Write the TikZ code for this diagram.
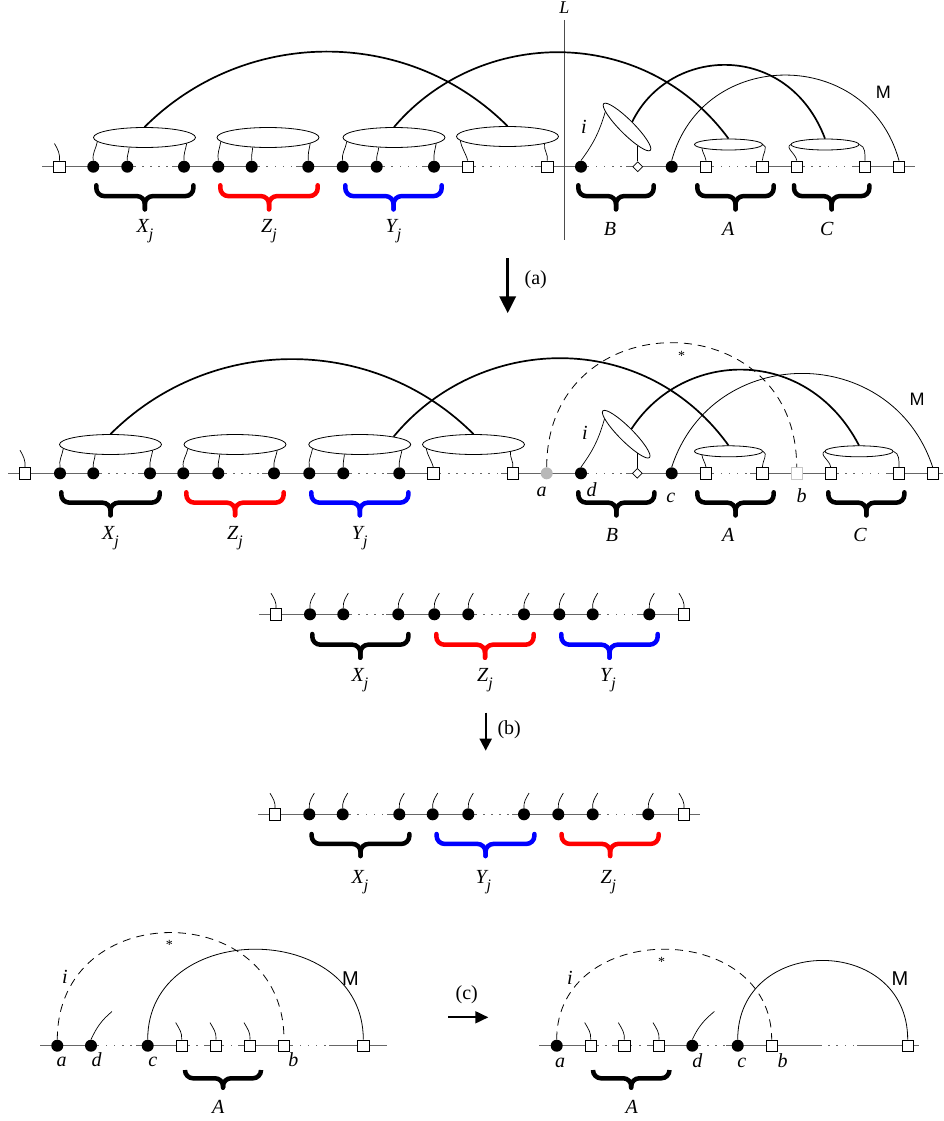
\documentclass[tikz,border=0pt]{standalone}
\usepackage{fontspec}
\setmainfont{Liberation Serif}
\newfontfamily\msans{Liberation Sans}
\usetikzlibrary{shapes.geometric,arrows.meta,positioning}
\tikzset{base/.style={draw=black!60, line width=1.1pt},
         gap/.style={draw=white, line width=3pt, dash pattern=on 6.5pt off 1.6pt,
                     shorten <=2pt, shorten >=6pt},
         dot/.style={circle, fill=black, inner sep=0pt, minimum size=12pt},
         box/.style={rectangle, draw, fill=white, line width=0.7pt,
                     inner sep=0pt, minimum size=11.5pt},
         dia/.style={diamond, draw, fill=white, line width=0.7pt,
                     inner sep=0pt, minimum size=10pt},
         ell/.style={ellipse, draw, fill=white, line width=0.8pt, inner sep=0pt,
                     minimum width=102pt, minimum height=20pt},
         sell/.style={ell, minimum width=68pt, minimum height=11pt},
         bell/.style={ell, minimum width=66pt, minimum height=14pt, rotate=-45},
         tie/.style={line width=0.7pt},
         bigarc/.style={line width=1.7pt},
         thinarc/.style={line width=0.8pt},
         dasharc/.style={line width=0.8pt, dash pattern=on 8pt off 6pt},
         bracestroke/.style={line width=4.5pt, line cap=round, rounded corners=8pt},
         lbl/.style={font=\fontsize{20}{24}\selectfont\itshape, inner sep=0pt, anchor=base},
         mlbl/.style={font=\msans\fontsize{18}{20}\selectfont, inner sep=0pt, anchor=base},
         steplbl/.style={font=\fontsize{20}{24}\selectfont, inner sep=0pt},
         astx/.style={font=\fontsize{14}{14}\selectfont, inner sep=0pt, anchor=north}}
% curly brace: colour, x from, x to, top y, depth
\newcommand\curly[5]{%
  \draw[bracestroke,#1] (#2,-#4) -- (#2,{-#4-0.45*#5}) -- ({(#2+#3)/2},{-#4-0.45*#5}) -- ({(#2+#3)/2},{-#4-#5});
  \draw[bracestroke,#1] (#3,-#4) -- (#3,{-#4-0.45*#5}) -- ({(#2+#3)/2},{-#4-0.45*#5}) -- ({(#2+#3)/2},{-#4-#5});}
\newcommand\subj[1]{#1\raisebox{-7pt}{\fontsize{16}{16}\selectfont j}}

\begin{document}
\begin{tikzpicture}[x=1pt,y=1pt]
  \useasboundingbox (0,0) rectangle (944,-1121);

  % ---- top row
  \coordinate (pL) at (42,-166.7);
  \coordinate (pR) at (915,-166.7);
  \draw[base] (pL) -- (pR);
  \foreach \n/\x in {x1/93.3,x2/127.3,x3/184,z1/218.3,z2/251.7,z3/308.3,
                     y1/342.7,y2/376.7,y3/434,d/581,c/671.7}
    \node[dot] (p\n) at (\x,-166.7) {};
  \foreach \n/\x in {s0/59.5,q1/467.7,q2/547.3,a1/706,a2/762.3,c1/796.7,c2/865,m/899}
    \node[box] (p\n) at (\x,-166.7) {};
  \node[dia] (pdia) at (637.7,-166.7) {};
  \foreach \u/\v in {x2/x3,z2/z3,y2/y3,q1/q2,d/dia,a1/a2,c1/c2}
    \draw[gap] (p\u) -- (p\v);

  \node[ell] (pex) at (144.5,-137.5) {};
  \node[ell] (pez) at (268,-137.5) {};
  \node[ell] (pey) at (394,-137.5) {};
  \node[ell] (peq) at (507.5,-136.5) {};
  \node[sell] (peA) at (728.5,-144.5) {};
  \node[sell] (peC) at (825,-144.5) {};
  \node[bell] (peB) at (627,-127) {};

  \coordinate (Ltop) at (564.3,-20);
  \coordinate (Lbot) at (564.3,-240);
  \draw[draw=black!70, line width=0.9pt] (Ltop) -- (Lbot);
  \node[lbl, font=\fontsize{18}{20}\selectfont\itshape, above=6pt of Ltop] (Lname) {L};

  % ---- second row
  \coordinate (qL) at (8.3,-473.3);
  \coordinate (qR) at (943,-473.3);
  \draw[base] (qL) -- (qR);
  \foreach \n/\x in {x1/60,x2/93.3,x3/150,z1/183.3,z2/218.3,z3/274,
                     y1/309.3,y2/343.3,y3/399.3,d/581,c/671.7}
    \node[dot] (q\n) at (\x,-473.3) {};
  \foreach \n/\x in {s0/25,q1/433.3,q2/512.7,a1/706,a2/762.3,c1/830.7,c2/899,m/932.7}
    \node[box] (q\n) at (\x,-473.3) {};
  \node[dot, fill=black!28] (qa) at (546.7,-473.3) {};
  \node[box, draw=black!22] (qb) at (796.7,-473.3) {};
  \node[dia] (qdia) at (637.3,-473.3) {};
  \foreach \u/\v in {x2/x3,z2/z3,y2/y3,q1/q2,d/dia,a1/a2,c1/c2}
    \draw[gap] (q\u) -- (q\v);

  \node[ell] (qex) at (110.5,-444.5) {};
  \node[ell] (qez) at (235,-444.5) {};
  \node[ell] (qey) at (359.7,-444.5) {};
  \node[ell] (qeq) at (473.5,-444.5) {};
  \node[sell] (qeA) at (728.5,-451.3) {};
  \node[sell] (qeC) at (859,-451.3) {};
  \node[bell] (qeB) at (626.2,-434.2) {};

  % ties from the line up to the ellipses
  \foreach \w in {p,q}{
    \foreach \g in {x,z,y}{
      \draw[tie] (\w\g1.north) to[out=100,in=-100] (\w e\g.185);
      \draw[tie] (\w\g2.north) to[out=95,in=-95] (\w e\g.213);
      \draw[tie] (\w\g3.north) to[out=95,in=-100] (\w e\g.352);}
    \draw[tie] (\w q1.north) to[out=105,in=-80] (\w eq.185);
    \draw[tie] (\w q2.north) to[out=80,in=-100] (\w eq.349);
    \draw[tie] (\w a1.north) to[out=100,in=-80] (\w eA.188);
    \draw[tie] (\w a2.north) to[out=90,in=-20] (\w eA.east);
    \draw[tie] (\w c1.north) to[out=95,in=-150] (\w eC.west);
    \draw[tie] (\w c2.north) to[out=90,in=-20] (\w eC.east);
    \draw[tie] (\w dia.north) -- ++(0,15);
    \draw[tie] (\w d.north) to[bend right=10] (\w eB.190);
    \draw[tie] (\w s0.north) to[out=85,in=-60] ++(-5,17);
  }

  % arcs
  \draw[bigarc] (pex.north) .. controls +(100,100) and +(-100,100) .. (peq.north);
  \draw[bigarc] (pey.north) .. controls +(85,100) and +(-85,115) .. (peA.north);
  \draw[bigarc] (peB.north) .. controls +(37,76) and +(-37,98) .. (peC.north);
  \draw[thinarc] (pc.north) .. controls +(31,114) and +(-31,114) .. (pm.north);
  \draw[bigarc] (qex.north) .. controls +(100,100) and +(-100,100) .. (qeq.north);
  \draw[bigarc] (qey.13) .. controls +(85,103) and +(-85,118) .. (qeA.north);
  \draw[bigarc] (qeB.north) .. controls +(52,80) and +(-52,100) .. (qeC.north);
  \draw[thinarc] (qc.north) .. controls +(41,125) and +(-41,125) .. (qm.north);
  \draw[dasharc] (qa.north) .. controls +(0,166) and +(0,166) .. (qb.north);

  % braces
  \curly{black}{96.3}{193.4}{185.3}{24}
  \curly{red}{220.3}{317.7}{185.3}{24}
  \curly{blue}{345.3}{441.7}{185.3}{24}
  \curly{black}{578.3}{653.7}{185.3}{24}
  \curly{black}{697.3}{773.7}{185.3}{24}
  \curly{black}{794}{869.4}{185.3}{24}
  \curly{black}{61.3}{159.7}{492.3}{23}
  \curly{red}{186.3}{283.7}{492.3}{23}
  \curly{blue}{311.3}{408.4}{492.3}{23}
  \curly{black}{578.3}{654.4}{492.3}{23}
  \curly{black}{697.3}{773.7}{492.3}{23}
  \curly{black}{828.3}{904.4}{492.3}{23}

  % labels
  \node[lbl] (plx) at (145,-232.7) {\subj{X}};
  \node[lbl] (plz) at (269,-232.7) {\subj{Z}};
  \node[lbl] (ply) at (393.5,-232.7) {\subj{Y}};
  \node[lbl] (plB) at (610,-235) {B};
  \node[lbl] (plA) at (728.3,-235) {A};
  \node[lbl] (plC) at (826.7,-235) {C};
  \node[lbl] (pli) at (584,-133.3) {i};
  \node[mlbl] (plM) at (883.3,-99) {M};
  \node[lbl] (qlx) at (110.5,-539) {\subj{X}};
  \node[lbl] (qlz) at (235,-539) {\subj{Z}};
  \node[lbl] (qly) at (359.7,-539) {\subj{Y}};
  \node[lbl] (qlB) at (612,-541) {B};
  \node[lbl] (qlA) at (728.3,-541) {A};
  \node[lbl] (qlC) at (860,-541) {C};
  \node[lbl] (qla) at (541.7,-496) {a};
  \node[lbl] (qld) at (591.7,-496) {d};
  \node[lbl] (qlc) at (670.7,-502.5) {c};
  \node[lbl] (qlb) at (801.7,-502.5) {b};
  \node[lbl] (qli) at (585,-439) {i};
  \node[mlbl] (qlM) at (917,-405.7) {M};
  \node[astx] (qst) at (681.7,-350.7) {*};

  % step (a)
  \coordinate (ta) at (507.7,-258.3);
  \coordinate (ha) at (507.7,-313.3);
  \draw[-{Triangle[length=17pt,width=16pt]}, line width=3.5pt] (ta) -- (ha);
  \node[steplbl] (la) at (535.8,-279.5) {(a)};

  % ---- third and fourth rows
  \coordinate (rL) at (259.3,-614.3);
  \coordinate (rR) at (689.3,-614.3);
  \draw[base] (rL) -- (rR);
  \foreach \n/\x in {x1/310,x2/343.3,x3/398.3,z1/434.3,z2/468.3,z3/524,
                     y1/559.3,y2/592.7,y3/649.3}
    \node[dot] (r\n) at (\x,-614.3) {};
  \node[box] (rs0) at (276,-614.3) {};
  \node[box] (rs1) at (684,-614.3) {};

  \coordinate (sL) at (258.3,-814.3);
  \coordinate (sR) at (700,-814.3);
  \draw[base] (sL) -- (sR);
  \foreach \n/\x in {x1/309.3,x2/342.7,x3/399.3,y1/432.7,y2/468.3,y3/524,
                     z1/558.3,z2/592.7,z3/648.3}
    \node[dot] (s\n) at (\x,-814.3) {};
  \node[box] (ss0) at (275,-814.3) {};
  \node[box] (ss1) at (684,-814.3) {};

  \foreach \w in {r,s}{
    \foreach \g in {x,y,z}{
      \draw[gap] (\w\g2) -- (\w\g3);
      \foreach \k in {1,2,3}
        \draw[tie] (\w\g\k.north) to[out=95,in=-120] ++(5,15);}
    \draw[tie] (\w s0.north) to[out=85,in=-60] ++(-5,15);
    \draw[tie] (\w s1.north) to[out=85,in=-60] ++(-5,15);
  }

  \curly{black}{312.3}{408.4}{634}{23.7}
  \curly{red}{436.3}{533.7}{634}{23.7}
  \curly{blue}{561.3}{657.7}{634}{23.7}
  \curly{black}{311.6}{409.4}{834}{22}
  \curly{blue}{436.6}{534.4}{834}{22}
  \curly{red}{561.6}{658.7}{834}{22}

  \node[lbl] (rlx) at (360,-681.7) {\subj{X}};
  \node[lbl] (rlz) at (485,-681.7) {\subj{Z}};
  \node[lbl] (rly) at (608,-681.7) {\subj{Y}};
  \node[lbl] (slx) at (360,-883) {\subj{X}};
  \node[lbl] (sly) at (483.3,-883) {\subj{Y}};
  \node[lbl] (slz) at (608.3,-883) {\subj{Z}};

  % step (b)
  \coordinate (tb) at (485.7,-712.7);
  \coordinate (hb) at (485.7,-750.7);
  \draw[-{Triangle[length=12pt,width=12pt]}, line width=2pt] (tb) -- (hb);
  \node[steplbl] (lb) at (509.2,-729.7) {(b)};

  % ---- bottom, before
  \coordinate (uL) at (40,-1045.7);
  \coordinate (uR) at (386.7,-1045.7);
  \draw[base] (uL) -- (uR);
  \foreach \n/\x in {a/57.3,d/91,c/147.7}
    \node[dot] (u\n) at (\x,-1045.7) {};
  \foreach \n/\x in {a1/181.7,a2/216,a3/250,b/284,m/363.3}
    \node[box] (u\n) at (\x,-1045.7) {};
  \foreach \u/\v in {d/c,a1/a2,a2/a3}
    \draw[gap] (u\u) -- (u\v);
  \draw[gap, shorten <=3pt, shorten >=28pt] (ub) -- (um);
  \foreach \k in {1,2,3}
    \draw[tie] (ua\k.north) to[out=85,in=-60] ++(-6,17);
  \draw[tie] (ud.north) to[out=65,in=-140] ++(21,28);
  \draw[dasharc] (ua.north) .. controls +(0,142.7) and +(0,142.7) .. (ub.north);
  \draw[thinarc] (uc.north) .. controls +(0,120.5) and +(0,120.5) .. (um.north);
  \curly{black}{185}{261}{1070.6}{17}
  \node[lbl] (ula) at (61.7,-1066.7) {a};
  \node[lbl] (uld) at (96.7,-1066.7) {d};
  \node[lbl] (ulc) at (152.7,-1066.7) {c};
  \node[lbl] (ulb) at (293.3,-1066.7) {b};
  \node[lbl] (ulA) at (218.3,-1113) {A};
  \node[lbl] (uli) at (65,-983.3) {i};
  \node[mlbl, font=\msans\fontsize{20}{22}\selectfont] (ulM) at (350.5,-985) {M};
  \node[astx] (ust) at (169.3,-940) {*};

  % step (c)
  \coordinate (tc) at (448.3,-1017.3);
  \coordinate (hc) at (488.3,-1017.3);
  \draw[-{Triangle[length=13pt,width=12pt]}, line width=1.8pt] (tc) -- (hc);
  \node[steplbl] (lc) at (466.7,-995) {(c)};

  % ---- bottom, after
  \coordinate (vL) at (539.3,-1045.7);
  \coordinate (vR) at (919.3,-1045.7);
  \draw[base] (vL) -- (vR);
  \foreach \n/\x in {a/556.7,d/692.3,c/737.7}
    \node[dot] (v\n) at (\x,-1045.7) {};
  \foreach \n/\x in {a1/590.7,a2/624.3,a3/659,b/771.7,m/907.7}
    \node[box] (v\n) at (\x,-1045.7) {};
  \foreach \u/\v in {a1/a2,a2/a3,d/c}
    \draw[gap] (v\u) -- (v\v);
  \draw[gap, shorten <=44pt, shorten >=45pt] (vb) -- (vm);
  \foreach \k in {1,2,3}
    \draw[tie] (va\k.north) to[out=85,in=-60] ++(-6,17);
  \draw[tie] (vd.north) to[out=65,in=-140] ++(22,28);
  \draw[dasharc] (va.north) .. controls +(0,120.5) and +(0,120.5) .. (vb.north);
  \draw[thinarc] (vc.north) .. controls +(0,105.5) and +(0,105.5) .. (vm.north);
  \curly{black}{593}{669.4}{1070.6}{17}
  \node[lbl] (vla) at (560,-1067.5) {a};
  \node[lbl] (vld) at (697.3,-1067.5) {d};
  \node[lbl] (vlc) at (741.7,-1067.5) {c};
  \node[lbl] (vlb) at (782.7,-1067.5) {b};
  \node[lbl] (vlA) at (631.7,-1113) {A};
  \node[lbl] (vli) at (570,-984) {i};
  \node[mlbl, font=\msans\fontsize{20}{22}\selectfont] (vlM) at (900,-985) {M};
  \node[astx] (vst) at (661.7,-957.3) {*};
\end{tikzpicture}
\end{document}
